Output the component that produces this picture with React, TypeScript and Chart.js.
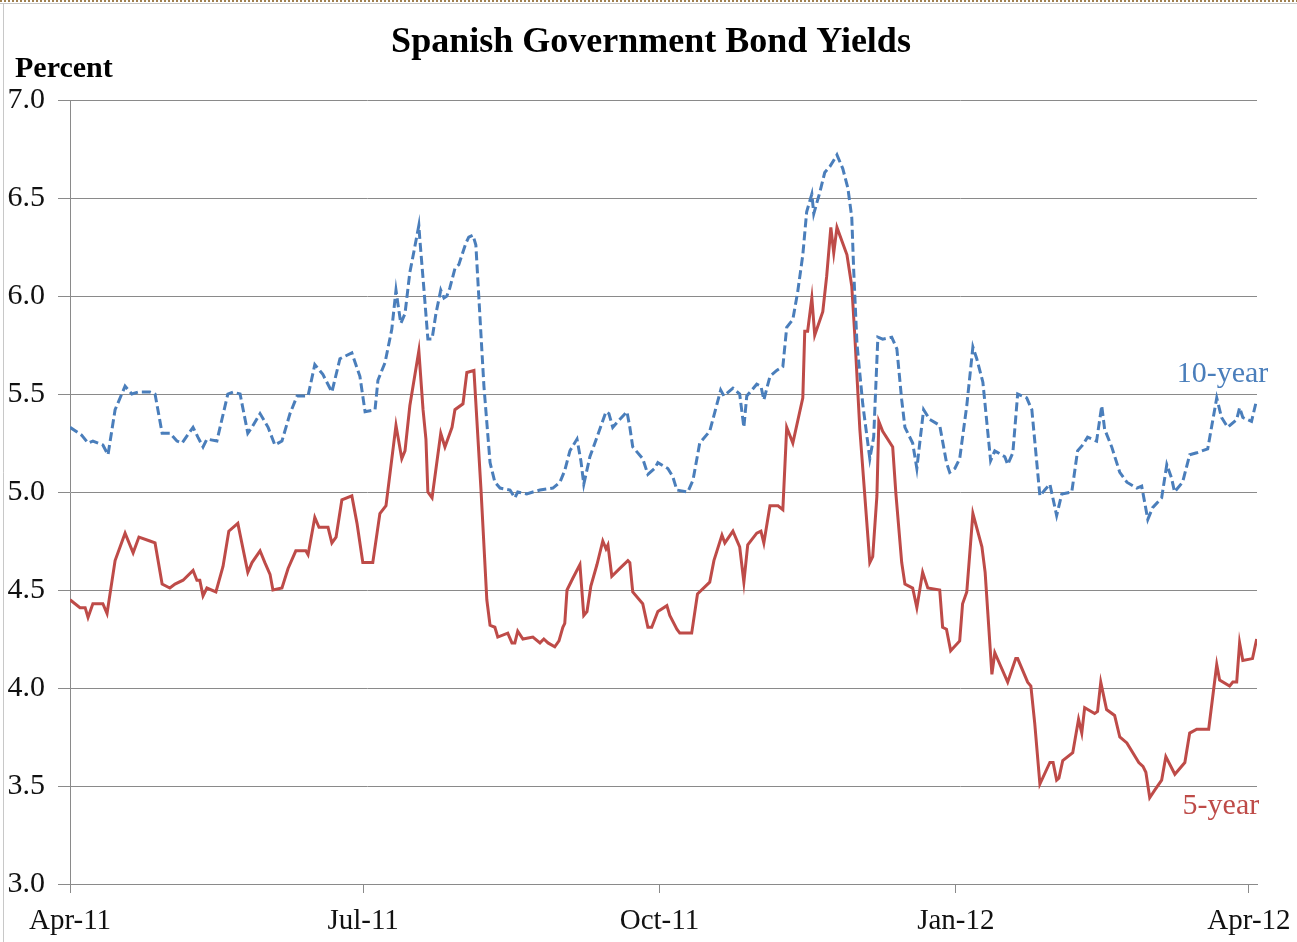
import React, { useEffect, useRef } from "react";
import { Chart, registerables } from "chart.js";

Chart.register(...registerables);

// Days counted from 1 April 2011
const tickDays = [0, 91, 183, 275, 366];
const tickLabels = ["Apr-11", "Jul-11", "Oct-11", "Jan-12", "Apr-12"];

const tenYearDays = [
  0.0, 3.6, 5.6, 7.1, 10.2, 11.8, 14.0, 17.1, 19.2, 21.1, 24.8, 26.4, 28.6, 31.0, 33.2, 34.8, 38.2, 39.7, 41.3, 42.5,
  45.6, 49.0, 50.6, 52.8, 55.2, 56.5, 59.0, 61.5, 63.6, 65.8, 68.3, 70.5, 73.9, 76.0, 78.5, 81.3, 83.8, 87.5, 90.0,
  91.6, 94.7, 95.6, 97.8, 99.9, 101.2, 101.8, 102.7, 104.0, 105.5, 106.8, 108.3, 108.6, 109.9, 111.1, 112.4, 113.6,
  115.1, 116.1, 117.0, 117.9, 119.5, 120.7, 122.9, 123.8, 125.1, 126.0, 126.9, 128.5, 130.4, 131.9, 133.5, 136.6,
  138.1, 139.0, 141.8, 143.7, 145.9, 149.9, 152.1, 153.6, 155.2, 157.4, 158.6, 159.5, 161.4, 163.6, 166.4, 167.3,
  168.5, 170.1, 172.9, 173.8, 174.7, 177.8, 179.4, 181.5, 182.5, 185.6, 187.1, 188.4, 191.8, 193.4, 195.5, 198.6,
  202.0, 203.0, 205.8, 207.9, 209.2, 210.1, 213.2, 214.5, 215.4, 217.3, 219.4, 221.3, 222.5, 224.4, 225.9, 227.5,
  228.7, 230.3, 230.9, 232.8, 234.3, 235.9, 238.1, 239.9, 241.5, 242.7, 243.3, 244.3, 246.1, 248.3, 249.5, 250.8,
  252.3, 255.1, 256.7, 258.2, 259.2, 261.6, 262.9, 263.8, 265.0, 266.9, 270.0, 272.1, 273.1, 274.7, 276.2, 278.4,
  280.3, 281.5, 283.4, 285.8, 287.1, 290.2, 291.1, 292.7, 294.2, 297.0, 298.6, 301.1, 302.6, 304.2, 306.3, 307.9,
  311.0, 312.8, 314.4, 315.9, 318.7, 320.3, 321.2, 323.4, 325.9, 328.1, 331.2, 332.7, 334.6, 336.1, 338.9, 340.5,
  342.0, 342.9, 345.4, 347.6, 349.8, 353.2, 356.0, 357.5, 359.4, 362.2, 363.1, 364.1, 366.8, 368.1,
];
const tenYearValues = [
  5.33, 5.29, 5.25, 5.26, 5.24, 5.19, 5.42, 5.54, 5.5, 5.51, 5.51, 5.5, 5.3, 5.3, 5.26, 5.25, 5.33, 5.28, 5.23, 5.27,
  5.26, 5.5, 5.51, 5.5, 5.3, 5.33, 5.4, 5.33, 5.24, 5.26, 5.4, 5.49, 5.49, 5.65, 5.6, 5.51, 5.68, 5.71, 5.59,
  5.41, 5.42, 5.57, 5.66, 5.83, 6.03, 5.96, 5.86, 5.91, 6.12, 6.23, 6.36, 6.29, 6.03, 5.78, 5.78, 5.91,
  6.03, 5.99, 6.0, 6.04, 6.14, 6.16, 6.27, 6.3, 6.31, 6.26, 6.0, 5.54, 5.15, 5.05, 5.02, 5.01,
  4.97, 5.0, 4.99, 5.0, 5.01, 5.02, 5.05, 5.11, 5.21, 5.27, 5.16, 5.04, 5.18, 5.28, 5.41, 5.4,
  5.33, 5.36, 5.41, 5.33, 5.23, 5.17, 5.09, 5.12, 5.15, 5.12, 5.08, 5.01, 5.0, 5.06, 5.25, 5.31,
  5.52, 5.49, 5.53, 5.5, 5.33, 5.49, 5.55, 5.54, 5.47, 5.59, 5.62, 5.64, 5.84, 5.88, 6.02, 6.21,
  6.43, 6.52, 6.42, 6.53, 6.63, 6.66, 6.72, 6.65, 6.55, 6.4, 6.13, 5.76, 5.45, 5.17, 5.28, 5.79,
  5.78, 5.79, 5.73, 5.47, 5.33, 5.25, 5.12, 5.25, 5.42, 5.37, 5.34, 5.15, 5.1, 5.12, 5.17, 5.44,
  5.74, 5.68, 5.56, 5.16, 5.21, 5.18, 5.14, 5.2, 5.5, 5.48, 5.42, 4.98, 5.01, 5.04, 4.88, 4.99,
  5.0, 5.21, 5.24, 5.28, 5.26, 5.44, 5.32, 5.23, 5.1, 5.05, 5.02, 5.03, 4.86, 4.92, 4.97, 5.14,
  5.07, 5.0, 5.05, 5.19, 5.2, 5.22, 5.48, 5.38, 5.33, 5.37, 5.43, 5.38, 5.36, 5.45,
];

const fiveYearDays = [
  0.0, 3.1, 4.7, 5.6, 7.1, 10.2, 11.5, 14.0, 17.1, 19.6, 21.4, 24.8, 26.4, 28.6, 31.0, 32.6, 35.1, 38.2, 39.4, 40.3,
  41.3, 42.5, 45.3, 47.5, 49.3, 52.1, 55.2, 56.5, 59.0, 60.5, 62.1, 63.0, 65.8, 67.7, 70.1, 73.2, 73.9, 76.0, 77.3,
  80.1, 81.3, 82.6, 84.4, 87.5, 89.1, 90.9, 94.0, 96.2, 98.1, 101.2, 103.0, 104.0, 105.5, 108.3, 109.6, 110.5, 111.1,
  112.4, 115.1, 116.4, 118.6, 119.5, 122.0, 123.2, 125.4, 127.6, 129.4, 130.4, 131.9, 132.8, 135.9, 137.2, 138.1,
  139.0, 140.6, 143.7, 145.9, 147.1, 148.4, 150.5, 151.8, 153.0, 153.6, 154.3, 156.1, 158.3, 159.5, 160.5, 161.7,
  163.6, 165.4, 166.4, 167.0, 168.2, 170.7, 173.2, 173.8, 174.7, 177.8, 179.4, 180.6, 182.5, 185.3, 186.2, 188.4,
  189.3, 193.0, 194.8, 198.6, 199.9, 202.4, 203.3, 205.8, 207.9, 209.2, 210.4, 213.2, 214.5, 215.4, 217.3, 219.8,
  221.3, 222.5, 224.4, 227.5, 228.1, 229.0, 230.3, 231.2, 233.7, 234.9, 236.2, 237.1, 238.1, 241.2, 242.7, 243.6,
  245.2, 248.3, 249.2, 250.5, 251.1, 252.3, 255.4, 256.4, 258.2, 259.2, 261.6, 262.9, 264.7, 266.3, 270.0, 270.9,
  272.1, 273.4, 276.2, 277.1, 278.4, 280.3, 283.1, 284.1, 286.2, 287.1, 291.1, 293.6, 294.2, 297.3, 298.3, 299.5,
  301.1, 304.2, 305.2, 306.3, 307.0, 308.2, 311.3, 313.1, 314.1, 315.0, 318.1, 319.0, 320.0, 321.8, 324.3, 325.9,
  328.1, 331.8, 333.1, 334.0, 335.2, 336.8, 338.9, 340.2, 343.0, 346.1, 347.6, 349.8, 353.5, 356.0, 356.9, 360.0,
  361.0, 362.2, 363.1, 364.1, 367.1, 368.4,
];
const fiveYearValues = [
  4.45, 4.41, 4.41, 4.36, 4.43, 4.43, 4.38, 4.65, 4.79, 4.69, 4.77, 4.75, 4.74, 4.53, 4.51, 4.53, 4.55, 4.6, 4.55, 4.55,
  4.47, 4.51, 4.49, 4.62, 4.8, 4.84, 4.59, 4.64, 4.7, 4.64, 4.58, 4.5, 4.51, 4.61, 4.7, 4.7, 4.68, 4.87, 4.82,
  4.82, 4.74, 4.77, 4.96, 4.98, 4.84, 4.64, 4.64, 4.89, 4.93, 5.34, 5.17, 5.21, 5.44, 5.72, 5.42, 5.27, 5.0,
  4.97, 5.3, 5.23, 5.33, 5.42, 5.45, 5.61, 5.62, 5.01, 4.45, 4.32, 4.31, 4.26, 4.28, 4.23, 4.23,
  4.29, 4.25, 4.26, 4.23, 4.25, 4.23, 4.21, 4.24, 4.31, 4.33, 4.5, 4.56, 4.63, 4.37, 4.39, 4.52,
  4.63, 4.75, 4.71, 4.73, 4.57, 4.61, 4.65, 4.64, 4.49, 4.43, 4.31, 4.31, 4.39, 4.42, 4.37, 4.3,
  4.28, 4.28, 4.48, 4.54, 4.65, 4.78, 4.74, 4.8, 4.72, 4.54, 4.73, 4.79, 4.8, 4.74, 4.93, 4.93,
  4.91, 5.33, 5.25, 5.48, 5.82, 5.82, 5.99, 5.8, 5.92, 6.1, 6.35, 6.22, 6.35, 6.21, 6.05, 5.81,
  5.32, 4.64, 4.67, 4.98, 5.36, 5.31, 5.23, 4.99, 4.64, 4.53, 4.51, 4.41, 4.59, 4.51, 4.5, 4.31,
  4.3, 4.19, 4.24, 4.43, 4.49, 4.89, 4.72, 4.59, 4.07, 4.18, 4.03, 4.15, 4.15, 4.03, 4.01, 3.82,
  3.51, 3.62, 3.62, 3.53, 3.54, 3.63, 3.67, 3.84, 3.77, 3.9, 3.87, 3.88, 4.03, 3.89, 3.86, 3.75,
  3.72, 3.62, 3.6, 3.57, 3.44, 3.48, 3.53, 3.65, 3.56, 3.62, 3.77, 3.79, 3.79, 4.12, 4.04, 4.01,
  4.03, 4.03, 4.23, 4.14, 4.15, 4.25,
];

const TITLE = "Spanish Government Bond Yields";
const Y_TITLE = "Percent";
const TEN_LABEL = "10-year";
const FIVE_LABEL = "5-year";
const BLUE = "#4a7ebb";
const RED = "#be4b48";
const SERIF = '"Liberation Serif", "Times New Roman", serif';

const decorations = {
  id: "decorations",
  beforeDraw(chart: any) {
    const { ctx, width, height } = chart;
    ctx.save();
    ctx.fillStyle = "#ffffff";
    ctx.fillRect(0, 0, width, height);
    ctx.restore();
  },
  afterDraw(chart: any) {
    const { ctx, width, height } = chart;
    const xs = chart.scales.x;
    const ys = chart.scales.y;
    ctx.save();
    // frame
    ctx.strokeStyle = "#a0804f";
    ctx.lineWidth = 2;
    ctx.setLineDash([2, 2]);
    ctx.beginPath();
    ctx.moveTo(0, 1);
    ctx.lineTo(width, 1);
    ctx.stroke();
    ctx.setLineDash([]);
    ctx.strokeStyle = "#c8c8c8";
    ctx.lineWidth = 1;
    ctx.beginPath();
    ctx.moveTo(0, 3.5);
    ctx.lineTo(width, 3.5);
    ctx.moveTo(3.5, 3.5);
    ctx.lineTo(3.5, height);
    ctx.stroke();

    // title
    ctx.fillStyle = "#000000";
    ctx.textBaseline = "alphabetic";
    ctx.textAlign = "center";
    ctx.font = `bold 36px ${SERIF}`;
    ctx.fillText(TITLE, 651, 52);
    ctx.textAlign = "left";
    ctx.font = `bold 30px ${SERIF}`;
    ctx.fillText(Y_TITLE, 15, 77);

    // series labels
    ctx.textAlign = "center";
    ctx.font = `30px ${SERIF}`;
    ctx.fillStyle = BLUE;
    ctx.fillText(TEN_LABEL, xs.getPixelForValue(357.8), ys.getPixelForValue(5.56));
    ctx.fillStyle = RED;
    ctx.fillText(FIVE_LABEL, xs.getPixelForValue(357.3), ys.getPixelForValue(3.4) + 8);
    ctx.restore();
  },
};

export default function App() {
  const ref = useRef<HTMLCanvasElement | null>(null);

  useEffect(() => {
    document.body.style.margin = "0";
    const canvas = ref.current;
    if (!canvas) return;
    const chart = new Chart(canvas, {
      type: "line",
      data: {
        datasets: [
          {
            label: TEN_LABEL,
            data: tenYearDays.map((d, i) => ({ x: d, y: tenYearValues[i] })),
            borderColor: BLUE,
            borderWidth: 3,
            borderDash: [9, 4],
            pointRadius: 0,
            tension: 0,
            fill: false,
          },
          {
            label: FIVE_LABEL,
            data: fiveYearDays.map((d, i) => ({ x: d, y: fiveYearValues[i] })),
            borderColor: RED,
            borderWidth: 3,
            pointRadius: 0,
            tension: 0,
            fill: false,
          },
        ],
      },
      options: {
        responsive: false,
        animation: false,
        layout: { padding: { top: 100, right: 40, left: 0, bottom: 0 } },
        plugins: {
          legend: { display: false },
          title: { display: false },
          tooltip: { enabled: false },
        },
        scales: {
          x: {
            type: "linear",
            min: 0,
            max: 368.5,
            afterBuildTicks: (s: any) => {
              s.ticks = tickDays.map((v) => ({ value: v }));
            },
            afterFit: (s: any) => {
              s.height = 58;
              s.paddingLeft = 0;
              s.paddingRight = 0;
            },
            grid: {
              drawOnChartArea: false,
              drawTicks: true,
              tickLength: 9,
              color: "#8a8a8a",
            },
            border: { display: true, color: "#8a8a8a", width: 1 },
            ticks: {
              autoSkip: false,
              maxRotation: 0,
              padding: 11,
              color: "#111111",
              font: { family: SERIF, size: 29 },
              callback: (_v: any, i: number) => tickLabels[i],
            },
          },
          y: {
            type: "linear",
            min: 3,
            max: 7,
            afterFit: (s: any) => {
              s.width = 70;
            },
            grid: {
              color: "#8a8a8a",
              lineWidth: 1,
              drawTicks: true,
              tickLength: 12,
            },
            border: { display: true, color: "#8a8a8a", width: 1 },
            ticks: {
              stepSize: 0.5,
              padding: 13,
              color: "#111111",
              font: { family: SERIF, size: 30 },
              callback: (v: any) => Number(v).toFixed(1),
            },
          },
        },
      },
      plugins: [decorations],
    });
    return () => chart.destroy();
  }, []);

  return (
    <div style={{ width: 1297, height: 942, position: "relative" }}>
      <canvas ref={ref} width={1297} height={942} style={{ display: "block" }} />
    </div>
  );
}
